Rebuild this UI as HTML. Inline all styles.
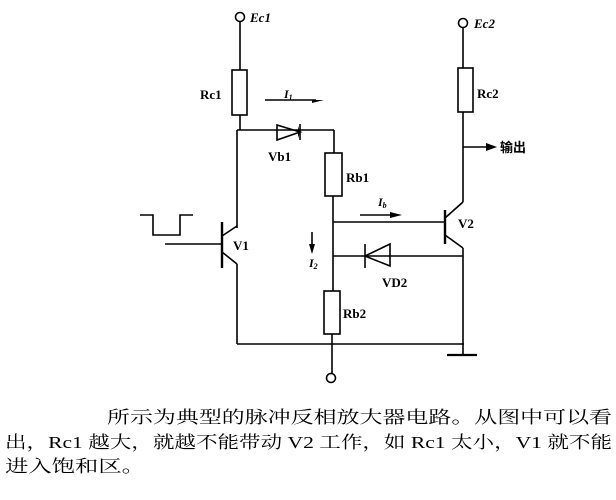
<!DOCTYPE html>
<html><head><meta charset="utf-8"><style>
body{margin:0;background:#fff;}
svg{display:block}
</style></head><body>
<svg width="616" height="500" xmlns="http://www.w3.org/2000/svg" font-family="Liberation Serif, serif">
<g stroke="#000" stroke-width="1.6" fill="none">
<!-- Ec1 -->
<circle cx="240" cy="17" r="4.5"/>
<line x1="240" y1="22" x2="240" y2="70"/>
<rect x="232" y="70" width="15" height="45"/>
<line x1="240" y1="115" x2="240" y2="130"/>
<line x1="237" y1="130" x2="237" y2="228"/>
<line x1="237" y1="130" x2="334" y2="130"/>
<!-- Vb1 diode -->
<polygon points="277,125 277,140 300,132"/>
<line x1="300" y1="124" x2="300" y2="140"/>
<line x1="334" y1="130" x2="334" y2="153"/>
<rect x="325" y="153" width="17" height="43"/>
<line x1="333" y1="196" x2="333" y2="291"/>
<rect x="324" y="291" width="16" height="43"/>
<line x1="332" y1="334" x2="332" y2="373"/>
<circle cx="331" cy="378" r="4.5"/>
<!-- V1 -->
<line x1="222" y1="222" x2="222" y2="268" stroke-width="2.4"/>
<line x1="165" y1="244" x2="222" y2="244"/>
<line x1="222" y1="236" x2="237" y2="226"/>
<line x1="222" y1="252" x2="237" y2="264"/>
<line x1="237" y1="264" x2="237" y2="344"/>
<line x1="237" y1="344" x2="464" y2="344"/>
<!-- square wave -->
<polyline points="140,215 153,215 153,235 180,235 180,215 193,215"/>
<!-- Ib wire -->
<line x1="333" y1="222" x2="445" y2="222"/>
<line x1="445" y1="210" x2="445" y2="244" stroke-width="2.4"/>
<line x1="445" y1="218" x2="463" y2="202"/>
<line x1="463" y1="202" x2="463" y2="112"/>
<rect x="458" y="68" width="15" height="44"/>
<line x1="463" y1="68" x2="463" y2="28"/>
<circle cx="463" cy="23" r="4.5"/>
<line x1="463" y1="147" x2="488" y2="147"/>
<line x1="445" y1="235" x2="463" y2="248"/>
<line x1="463" y1="248" x2="463" y2="355"/>
<line x1="447" y1="355" x2="477" y2="355" stroke-width="2.2"/>
<!-- VD2 -->
<line x1="333" y1="256" x2="463" y2="256"/>
<polygon points="365,256 390,244 390,266"/>
<line x1="365" y1="244" x2="365" y2="268"/>
<!-- arrows -->
<line x1="265" y1="100" x2="316" y2="100"/>
<line x1="360" y1="215" x2="395" y2="215"/>
<line x1="312" y1="232" x2="312" y2="246"/>
</g>
<g fill="#000">
<polygon points="312,100 324,100 312,103"/>
<polygon points="390,212 402,215 390,218"/>
<polygon points="309,244 315,244 312,254"/>
<polygon points="486,143 497,147 486,151"/>
<polygon points="298,126 300,132 298,138"/>
</g>
<g font-size="13" font-weight="bold" fill="#000">
<text x="250" y="22" font-style="italic">Ec1</text>
<text x="200" y="99">Rc1</text>
<text x="284" y="98" font-style="italic" font-size="12">I<tspan font-size="8" dy="2">1</tspan></text>
<text x="268" y="161">Vb1</text>
<text x="346" y="182">Rb1</text>
<text x="378" y="206" font-style="italic" font-size="12">I<tspan font-size="8" dy="2">b</tspan></text>
<text x="233" y="250">V1</text>
<text x="309" y="267" font-style="italic" font-size="12">I<tspan font-size="8" dy="2">2</tspan></text>
<text x="458" y="228">V2</text>
<text x="382" y="287">VD2</text>
<text x="343" y="318">Rb2</text>
<text x="474" y="28" font-style="italic">Ec2</text>
<text x="477" y="98">Rc2</text>
<text x="500" y="152" font-family="Liberation Sans, Noto Sans CJK SC, sans-serif" font-size="13">输出</text>
</g>
<g font-size="17" fill="#000" font-family="Liberation Serif, Noto Serif CJK SC, serif">
<text x="107" y="423" textLength="505" lengthAdjust="spacingAndGlyphs">所示为典型的脉冲反相放大器电路。从图中可以看</text>
<text x="5" y="448" textLength="607" lengthAdjust="spacingAndGlyphs">出，Rc1 越大，就越不能带动 V2 工作，如 Rc1 太小，V1 就不能</text>
<text x="5" y="472" textLength="140" lengthAdjust="spacingAndGlyphs">进入饱和区。</text>
</g>
</svg>
</body></html>
